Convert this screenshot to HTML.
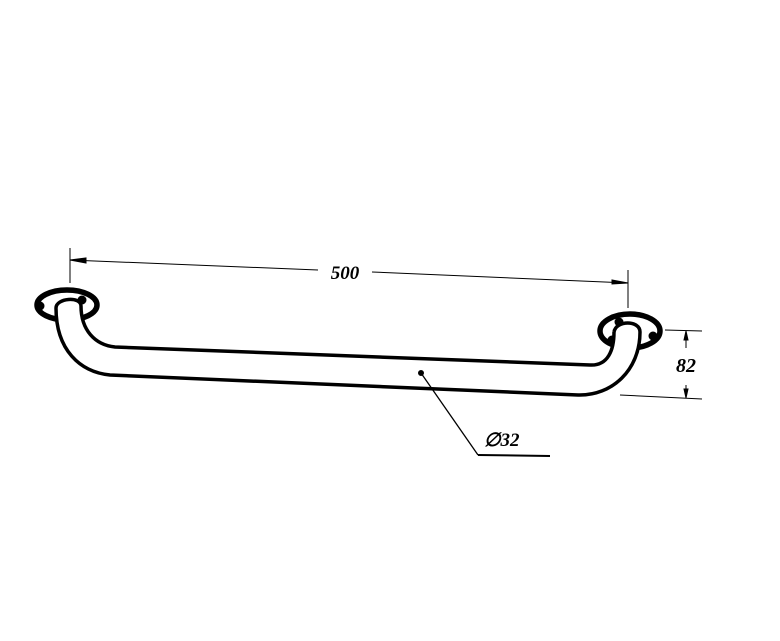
<!DOCTYPE html>
<html><head><style>body{margin:0;background:#fff}</style></head><body>
<svg width="780" height="636" viewBox="0 0 780 636" xmlns="http://www.w3.org/2000/svg">
<g fill="none" stroke="#000">
<!-- dimension 500 -->
<line x1="70" y1="248" x2="70" y2="283" stroke-width="1"/>
<line x1="628" y1="270" x2="628" y2="308" stroke-width="1"/>
<line x1="70" y1="260" x2="318" y2="270" stroke-width="1"/>
<line x1="372" y1="272" x2="628" y2="283" stroke-width="1"/>
<path d="M70 260 L86 258 L86 263 Z" fill="#000"/>
<path d="M628 283 L612 284 L612 280 Z" fill="#000"/>
<!-- dimension 82 -->
<line x1="665" y1="330" x2="702" y2="331" stroke-width="1"/>
<line x1="620" y1="395" x2="702" y2="399" stroke-width="1"/>
<line x1="686" y1="331" x2="686" y2="348" stroke-width="1"/>
<line x1="686" y1="385" x2="686" y2="398" stroke-width="1"/>
<path d="M686 331 L684 340 L688 340 Z" fill="#000"/>
<path d="M686 398 L684 389 L688 389 Z" fill="#000"/>
<!-- flanges -->
<ellipse cx="67" cy="305" rx="30" ry="15" stroke-width="5.5"/>
<ellipse cx="630" cy="331" rx="30" ry="17" stroke-width="5.5"/>
<circle cx="40" cy="306" r="4" fill="#000"/>
<circle cx="82" cy="300" r="4" fill="#000"/>
<circle cx="619" cy="322" r="4" fill="#000"/>
<circle cx="653" cy="336" r="4" fill="#000"/>
<circle cx="612" cy="340" r="4" fill="#000"/>
<!-- bar fill -->
<path d="M56 308 C56 350 80 372 110 375 L578 395 C612 396 640 370 640 332 C640 320 614 320 614 332 C614 350 608 366 590 365 L115 347 C95 345 81 330 81 306 C81 296 56 298 56 308 Z" fill="#fff" stroke="none"/>
<!-- bar -->
<path d="M56 308 C56 350 80 372 110 375 L578 395 C612 396 640 370 640 332" stroke-width="3.5"/>
<path d="M81 306 C81 330 95 345 115 347 L590 365 C608 366 614 350 614 332" stroke-width="3.5"/>
<path d="M56 308 C56 298 81 296 81 306" stroke-width="3.5"/>
<path d="M614 332 C616 320 640 320 640 332" stroke-width="3.5"/>
<!-- leader -->
<circle cx="421" cy="373" r="2.5" fill="#000"/>
<line x1="421" y1="373" x2="478" y2="455" stroke-width="1.3"/>
<line x1="478" y1="455" x2="550" y2="456" stroke-width="2"/>
</g>
<g font-family="Liberation Serif, serif" font-style="italic" font-weight="bold" fill="#000">
<text x="345" y="279" font-size="19" text-anchor="middle">500</text>
<text x="686" y="372" font-size="20" text-anchor="middle">82</text>
<text x="484" y="446" font-size="19">∅32</text>
</g>
</svg>
</body></html>
